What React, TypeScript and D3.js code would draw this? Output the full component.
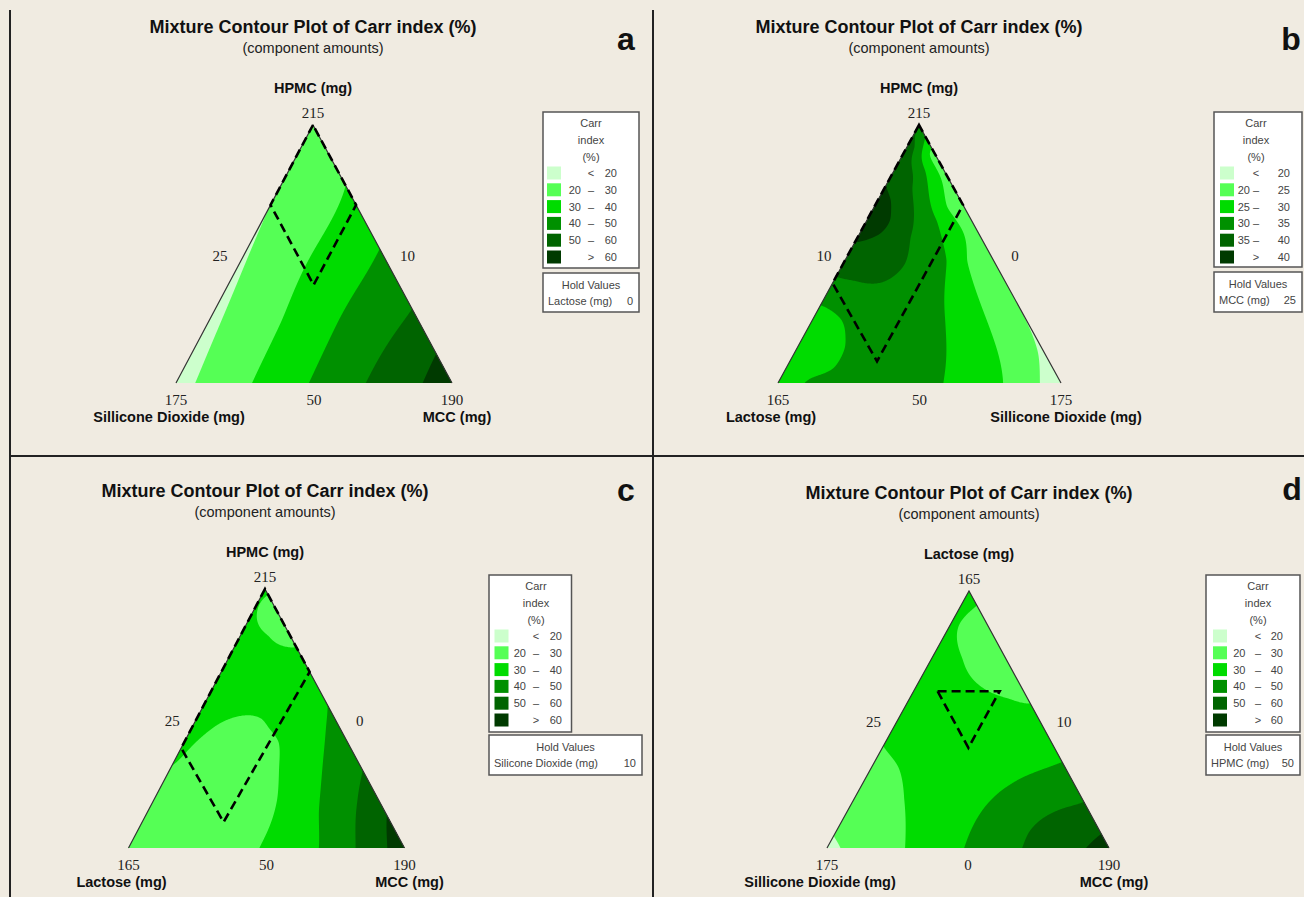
import React, { useMemo } from 'react';
import * as d3 from 'd3';

// ---------------- data ----------------
// Contour band colours (lowest band first)
const bandColors = ['#ccffcc', '#55ff55', '#00dc00', '#009000', '#006400', '#003a00'];

// Contour levels of the Carr index (%) for each panel
const levelsA = [20, 30, 40, 50, 60];
const levelsB = [20, 25, 30, 35, 40];
const levelsC = [20, 30, 40, 50, 60];
const levelsD = [20, 30, 40, 50, 60];

// Carr index readings taken off each plot:
// [fraction of top component, fraction of bottom-right component, Carr index %]
const readingsA = [
  [0, 0.067, 20], [0.32, 0.034, 20], [0.645, 0, 20],
  [0, 0.273, 30], [0.245, 0.26, 30], [0.503, 0.241, 30], [0.768, 0.232, 30],
  [0, 0.479, 40], [0.258, 0.466, 40], [0.523, 0.477, 40],
  [0, 0.685, 50], [0.29, 0.71, 50],
  [0, 0.891, 60], [0.116, 0.884, 60],
  [1, 0, 25], [0, 0, 17], [0, 1, 65], [0.85, 0.07, 24], [0.4, 0.35, 35],
];
const readingsB = [
  [0, 0.9235, 20], [0.116, 0.86, 20], [0.297, 0.703, 20],
  [0, 0.794, 25], [0.245, 0.614, 25], [0.477, 0.428, 25], [0.684, 0.254, 25], [0.89, 0.0876, 25],
  [0, 0.582, 30], [0.245, 0.467, 30], [0.477, 0.357, 30], [0.632, 0.245, 30], [0.826, 0.1075, 30],
  [0.303, 0, 30], [0.271, 0.065, 30], [0.245, 0.102, 30], [0.181, 0.146, 30], [0.142, 0.165, 30], [0.058, 0.165, 30], [0, 0.088, 30],
  [0.413, 0, 35], [0.4, 0.066, 35], [0.387, 0.143, 35], [0.439, 0.2115, 35], [0.465, 0.216, 35], [0.568, 0.183, 35],
  [0.632, 0.163, 35], [0.697, 0.13, 35], [0.761, 0.093, 35], [0.916, 0.0276, 35],
  [0.761, 0, 40], [0.71, 0.044, 40], [0.671, 0.063, 40], [0.632, 0.08, 40], [0.58, 0.07, 40], [0.548, 0, 40],
  [1, 0, 34], [0, 0, 27], [0, 1, 17], [0.85, 0, 38], [0.93, 0, 36.5],
  [0.6, 0.4, 22.5], [0.8, 0.2, 23],
  [0.1, 0.3, 33], [0.3, 0.25, 33.5], [0.25, 0.2, 32.5], [0.05, 0.3, 33], [0.35, 0.3, 33],
  [0.5, 0.1, 37.5], [0.45, 0.05, 37.5], [0.8, 0.05, 37.5], [0.66, 0.03, 41.5], [0.15, 0.05, 28],
];
const readingsC = [
  [0, 0.471, 30], [0.193, 0.442, 30], [0.3085, 0.391, 30], [0.411, 0.34, 30], [0.463, 0.278, 30], [0.501, 0.235, 30],
  [0.508, 0.135, 30], [0.488, 0.096, 30], [0.443, 0.058, 30], [0.321, 0, 30],
  [0.913, 0.013, 30], [0.823, 0.0997, 30], [0.78, 0.181, 30], [0.776, 0.224, 30],
  [0, 0.688, 40], [0.141, 0.618, 40], [0.3085, 0.548, 40], [0.476, 0.479, 40], [0.514, 0.464, 40], [0.553, 0.447, 40],
  [0, 0.821, 50], [0.18, 0.738, 50], [0.302, 0.698, 50],
  [0, 0.936, 60], [0.13, 0.87, 60],
  [1, 0, 30.5], [0, 0, 25], [0, 1, 65],
  [0.3, 0.2, 25], [0.2, 0.25, 24], [0.1, 0.1, 24], [0.35, 0.2, 26],
  [0.65, 0.15, 34], [0.55, 0.3, 35], [0.6, 0.05, 33], [0.35, 0.45, 35], [0.7, 0.28, 36],
  [0.88, 0.09, 27], [0.85, 0.12, 27], [0.9, 0.1, 28],
];
const readingsD = [
  [0, 0.047, 20], [0.045, 0, 20],
  [0.395, 0, 30], [0.317, 0.092, 30], [0.194, 0.174, 30], [0, 0.275, 30],
  [0.946, 0.054, 30], [0.868, 0.0285, 30], [0.738, 0.108, 30], [0.635, 0.219, 30], [0.583, 0.351, 30], [0.5635, 0.4365, 30],
  [0, 0.484, 40], [0.1295, 0.472, 40], [0.194, 0.487, 40], [0.246, 0.52, 40], [0.298, 0.588, 40], [0.337, 0.663, 40],
  [0, 0.69, 50], [0.0648, 0.682, 50], [0.1166, 0.703, 50], [0.1554, 0.754, 50], [0.181, 0.819, 50],
  [0, 0.915, 60], [0.058, 0.942, 60],
  [1, 0, 31], [0, 0, 18], [0, 1, 63],
  [0.4, 0.3, 35], [0.75, 0.2, 27], [0.2, 0.05, 25],
];

// Constraint (design) region outlines: [top fraction, bottom-right fraction]
const regionA = [[1, 0], [0.69, 0], [0.38, 0.31], [0.69, 0.31]];
const regionB = [[1, 0], [0.387, 0], [0.084, 0.308], [0.69, 0.31]];
const regionC = [[1, 0], [0.386, 0], [0.1, 0.295], [0.68, 0.32]];
const regionD = [[0.61, 0.085], [0.61, 0.305], [0.39, 0.305]];

// Axis tick labels: [top, left side, right side, bottom-left, bottom-mid, bottom-right]
const ticksA = ['215', '25', '10', '175', '50', '190'];
const ticksB = ['215', '10', '0', '165', '50', '175'];
const ticksC = ['215', '25', '0', '165', '50', '190'];
const ticksD = ['165', '25', '10', '175', '0', '190'];

// Component names: [top, bottom-left, bottom-right]
const componentsA = ['HPMC (mg)', 'Sillicone Dioxide (mg)', 'MCC (mg)'];
const componentsB = ['HPMC (mg)', 'Lactose (mg)', 'Sillicone Dioxide (mg)'];
const componentsC = ['HPMC (mg)', 'Lactose (mg)', 'MCC (mg)'];
const componentsD = ['Lactose (mg)', 'Sillicone Dioxide (mg)', 'MCC (mg)'];

// Hold values
const holdA = ['Lactose (mg)', '0'];
const holdB = ['MCC (mg)', '25'];
const holdC = ['Silicone Dioxide (mg)', '10'];
const holdD = ['HPMC (mg)', '50'];

// ---------------- layout ----------------
const panels = [
  {
    id: 'a', letter: 'a', letterX: 626, letterY: 50,
    tri: { A: [313, 125], B: [176, 383], C: [452, 383] },
    legend: { x: 543, y: 112, w: 96, h: 156, hy: 273, hw: 96, hh: 39, sx: 4, c1: 38, cd: 48, c2: 74 },
    levels: levelsA, readings: readingsA, region: regionA, ticks: ticksA, comps: componentsA, hold: holdA,
  },
  {
    id: 'b', letter: 'b', letterX: 1291, letterY: 50,
    tri: { A: [919, 125], B: [778, 383], C: [1061, 383] },
    legend: { x: 1214, y: 112, w: 88, h: 155, hy: 272, hw: 88, hh: 40, sx: 6, c1: 36, cd: 42, c2: 76 },
    levels: levelsB, readings: readingsB, region: regionB, ticks: ticksB, comps: componentsB, hold: holdB,
  },
  {
    id: 'c', letter: 'c', letterX: 626, letterY: 501,
    tri: { A: [265, 589], B: [128.5, 848], C: [404.5, 848] },
    legend: { x: 489, y: 575, w: 82.5, h: 157, hy: 735, hw: 153, hh: 40, sx: 5.5, c1: 37, cd: 47, c2: 73 },
    levels: levelsC, readings: readingsC, region: regionC, ticks: ticksC, comps: componentsC, hold: holdC,
  },
  {
    id: 'd', letter: 'd', letterX: 1292, letterY: 500,
    tri: { A: [969, 591], B: [827, 848], C: [1109, 848] },
    legend: { x: 1206, y: 575, w: 94, h: 157, hy: 735, hw: 94, hh: 40, sx: 7, c1: 39.5, cd: 52, c2: 77 },
    levels: levelsD, readings: readingsD, region: regionD, ticks: ticksD, comps: componentsD, hold: holdD,
  },
];

const SANS = '"Liberation Sans", Arial, sans-serif';
const SERIF = '"Liberation Serif", "Times New Roman", serif';

function solve(M: number[][], v: number[]) {
  const n = v.length;
  for (let c = 0; c < n; c++) {
    let piv = c;
    for (let r = c + 1; r < n; r++) if (Math.abs(M[r][c]) > Math.abs(M[piv][c])) piv = r;
    [M[c], M[piv]] = [M[piv], M[c]];
    [v[c], v[piv]] = [v[piv], v[c]];
    for (let r = c + 1; r < n; r++) {
      const f = M[r][c] / M[c][c];
      if (f === 0) continue;
      for (let k = c; k < n; k++) M[r][k] -= f * M[c][k];
      v[r] -= f * v[c];
    }
  }
  const x = new Array(n).fill(0);
  for (let r = n - 1; r >= 0; r--) {
    let s = v[r];
    for (let k = r + 1; k < n; k++) s -= M[r][k] * x[k];
    x[r] = s / M[r][r];
  }
  return x;
}

// Smooth thin-plate-spline surface through the readings (on an equilateral simplex frame)
function fitSurface(readings: number[][], smooth = 5e-4) {
  const S3 = Math.sqrt(3) / 2;
  const pts = readings.map(([t, r, v]) => [r + t / 2, t * S3, v]);
  const n = pts.length;
  const N = n + 3;
  const kern = (d2: number) => (d2 > 1e-12 ? 0.5 * d2 * Math.log(d2) : 0);
  const M = Array.from({ length: N }, () => new Array(N).fill(0));
  const v = new Array(N).fill(0);
  for (let i = 0; i < n; i++) {
    for (let j = 0; j < n; j++) {
      const dx = pts[i][0] - pts[j][0];
      const dy = pts[i][1] - pts[j][1];
      M[i][j] = kern(dx * dx + dy * dy) + (i === j ? smooth : 0);
    }
    M[i][n] = 1; M[i][n + 1] = pts[i][0]; M[i][n + 2] = pts[i][1];
    M[n][i] = 1; M[n + 1][i] = pts[i][0]; M[n + 2][i] = pts[i][1];
    v[i] = pts[i][2];
  }
  const w = solve(M, v);
  return (t: number, r: number) => {
    const x = r + t / 2;
    const y = t * S3;
    let s = w[n] + w[n + 1] * x + w[n + 2] * y;
    for (let i = 0; i < n; i++) {
      const dx = x - pts[i][0];
      const dy = y - pts[i][1];
      s += w[i] * kern(dx * dx + dy * dy);
    }
    return s;
  };
}

function Panel({ cfg }: { cfg: any }) {
  const [Ax, Ay] = cfg.tri.A;
  const [Bx, By] = cfg.tri.B;
  const [Cx, Cy] = cfg.tri.C;
  const project = (t: number, r: number): [number, number] => {
    const l = 1 - t - r;
    return [t * Ax + l * Bx + r * Cx, t * Ay + l * By + r * Cy];
  };
  const denom = (By - Cy) * (Ax - Cx) + (Cx - Bx) * (Ay - Cy);
  const toBary = (px: number, py: number) => {
    const t = ((By - Cy) * (px - Cx) + (Cx - Bx) * (py - Cy)) / denom;
    const l = ((Cy - Ay) * (px - Cx) + (Ax - Cx) * (py - Cy)) / denom;
    return [t, 1 - t - l];
  };

  const { contours, x0, y0 } = useMemo(() => {
    const surface = fitSurface(cfg.readings);
    const x0 = Math.floor(Bx) - 3;
    const y0 = Math.floor(Ay) - 3;
    const nx = Math.ceil(Cx - Bx) + 7;
    const ny = Math.ceil(By - Ay) + 7;
    const values: number[] = new Array(nx * ny);
    for (let j = 0; j < ny; j++) {
      for (let i = 0; i < nx; i++) {
        const [t, r] = toBary(x0 + i, y0 + j);
        values[i + j * nx] = surface(t, r);
      }
    }
    const contours = d3.contours().size([nx, ny]).thresholds(cfg.levels)(values);
    return { contours, x0, y0 };
  }, []);

  const geo = d3.geoPath();
  const clipId = `clip-${cfg.id}`;
  const triPath = `M${Ax},${Ay}L${Bx},${By}L${Cx},${Cy}Z`;
  const regionPts = cfg.region.map(([t, r]: number[]) => project(t, r));
  const regionPath = d3.line()(regionPts) + 'Z';

  const lg = cfg.legend;
  const levels: number[] = cfg.levels;
  const rows = bandColors.map((col, k) => {
    if (k === 0) return { col, a: '<', b: String(levels[0]), lower: null };
    if (k === bandColors.length - 1) return { col, a: '>', b: String(levels[levels.length - 1]), lower: null };
    return { col, a: '–', b: String(levels[k]), lower: String(levels[k - 1]) };
  });

  const midLeft = [(Ax + Bx) / 2, (Ay + By) / 2];
  const midRight = [(Ax + Cx) / 2, (Ay + Cy) / 2];

  return (
    <g>
      <text x={Ax} y={Ay - 92} textAnchor="middle" fontFamily={SANS} fontWeight="bold" fontSize={18} fill="#111">
        Mixture Contour Plot of Carr index (%)
      </text>
      <text x={Ax} y={Ay - 72} textAnchor="middle" fontFamily={SANS} fontSize={14.5} fill="#222">
        (component amounts)
      </text>
      <text x={cfg.letterX} y={cfg.letterY} textAnchor="middle" fontFamily={SANS} fontWeight="bold" fontSize={32} fill="#111">
        {cfg.letter}
      </text>

      <defs>
        <clipPath id={clipId}>
          <path d={triPath} />
        </clipPath>
      </defs>
      <g clipPath={`url(#${clipId})`}>
        <path d={triPath} fill={bandColors[0]} />
        <g transform={`translate(${x0},${y0})`}>
          {contours.map((c: any, k: number) => (
            <path key={k} d={geo(c) || ''} fill={bandColors[k + 1]} />
          ))}
        </g>
      </g>
      <path d={`M${Bx},${By}L${Ax},${Ay}L${Cx},${Cy}`} fill="none" stroke="#333" strokeWidth={1.2} />
      <path d={regionPath} fill="none" stroke="#000" strokeWidth={2.6} strokeDasharray="9,5" />

      <text x={Ax} y={Ay - 32} textAnchor="middle" fontFamily={SANS} fontWeight="bold" fontSize={14.5} fill="#111">
        {cfg.comps[0]}
      </text>
      <text x={Ax} y={Ay - 7} textAnchor="middle" fontFamily={SERIF} fontSize={15} fill="#222">{cfg.ticks[0]}</text>
      <text x={midLeft[0] - 24.5} y={midLeft[1] + 7} textAnchor="middle" fontFamily={SERIF} fontSize={15} fill="#222">{cfg.ticks[1]}</text>
      <text x={midRight[0] + 25} y={midRight[1] + 7} textAnchor="middle" fontFamily={SERIF} fontSize={15} fill="#222">{cfg.ticks[2]}</text>
      <text x={Bx} y={By + 22} textAnchor="middle" fontFamily={SERIF} fontSize={15} fill="#222">{cfg.ticks[3]}</text>
      <text x={(Bx + Cx) / 2} y={By + 22} textAnchor="middle" fontFamily={SERIF} fontSize={15} fill="#222">{cfg.ticks[4]}</text>
      <text x={Cx} y={Cy + 22} textAnchor="middle" fontFamily={SERIF} fontSize={15} fill="#222">{cfg.ticks[5]}</text>
      <text x={Bx - 7} y={By + 39} textAnchor="middle" fontFamily={SANS} fontWeight="bold" fontSize={14.5} fill="#111">
        {cfg.comps[1]}
      </text>
      <text x={Cx + 5} y={Cy + 39} textAnchor="middle" fontFamily={SANS} fontWeight="bold" fontSize={14.5} fill="#111">
        {cfg.comps[2]}
      </text>

      <rect x={lg.x} y={lg.y} width={lg.w} height={lg.h} fill="#fff" stroke="#555" strokeWidth={1.5} />
      {['Carr', 'index', '(%)'].map((s, k) => (
        <text key={s} x={lg.x + lg.cd} y={lg.y + 15 + k * 17} textAnchor="middle" fontFamily={SANS} fontSize={11} fill="#444">
          {s}
        </text>
      ))}
      {rows.map((row, k) => {
        const cy = lg.y + 61 + k * 16.8;
        return (
          <g key={k}>
            <rect x={lg.x + lg.sx} y={cy - 6.5} width={14} height={13} fill={row.col} />
            {row.lower && (
              <text x={lg.x + lg.c1} y={cy + 4} textAnchor="end" fontFamily={SANS} fontSize={11} fill="#444">{row.lower}</text>
            )}
            <text x={lg.x + lg.cd} y={cy + 4} textAnchor="middle" fontFamily={SANS} fontSize={11} fill="#444">{row.a}</text>
            <text x={lg.x + lg.c2} y={cy + 4} textAnchor="end" fontFamily={SANS} fontSize={11} fill="#444">{row.b}</text>
          </g>
        );
      })}
      <rect x={lg.x} y={lg.hy} width={lg.hw} height={lg.hh} fill="#fff" stroke="#555" strokeWidth={1.5} />
      <text x={lg.x + lg.hw / 2} y={lg.hy + 16} textAnchor="middle" fontFamily={SANS} fontSize={11} fill="#444">Hold Values</text>
      <text x={lg.x + 5} y={lg.hy + 32} fontFamily={SANS} fontSize={11} fill="#444">{cfg.hold[0]}</text>
      <text x={lg.x + lg.hw - 6} y={lg.hy + 32} textAnchor="end" fontFamily={SANS} fontSize={11} fill="#444">{cfg.hold[1]}</text>
    </g>
  );
}

export default function App() {
  return (
    <div style={{ position: 'absolute', left: 0, top: 0 }}>
      <svg width={1304} height={897} style={{ display: 'block' }}>
        <rect x={0} y={0} width={1304} height={897} fill="#f0ebe1" />
        {panels.map((p) => (
          <Panel key={p.id} cfg={p} />
        ))}
        <line x1={10} y1={10} x2={10} y2={897} stroke="#222" strokeWidth={2} />
        <line x1={653} y1={10} x2={653} y2={897} stroke="#222" strokeWidth={2} />
        <line x1={10} y1={456} x2={1304} y2={456} stroke="#222" strokeWidth={2} />
      </svg>
    </div>
  );
}
